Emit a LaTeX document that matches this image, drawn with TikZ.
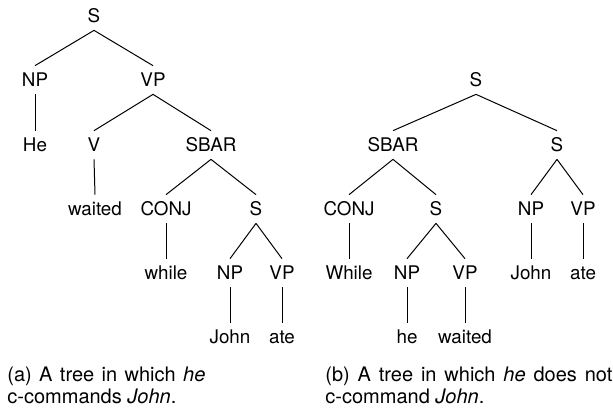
\documentclass[tikz,border=0pt]{standalone}
\usepackage{fontspec}
\setmainfont{TeX Gyre Heros}
\usetikzlibrary{calc}
\tikzset{
    cat/.style={inner xsep=1pt, inner ysep=3.6pt, text height=6.75pt, text depth=0pt,
      font=\fontsize{9.4}{10}\selectfont},
    branch/.style={line width=0.5pt},
    caption/.style={anchor=north west, inner sep=0pt, align=justify,
      font=\fontsize{10}{10.5}\selectfont},
  }

\begin{document}
\begin{tikzpicture}[x=0.5pt,y=-0.5pt]
  \useasboundingbox (0,0) rectangle (613,409);
  %TREE (a)
  \node[cat] (Sa) at (94,16) {S};
  \node[cat] (NPa) at (35,80) {NP};
  \node[cat] (VPa) at (153,80) {VP};
  \node[cat] (Hea) at (35,145) {He};
  \node[cat] (Va) at (94,145) {V};
  \node[cat] (SBARa) at (211,145) {SBAR};
  \node[cat] (waiteda) at (95,209) {waited};
  \node[cat] (CONJa) at (166,209) {CONJ};
  \node[cat] (Sa') at (256,209) {S};
  \node[cat] (whilea) at (166,273) {while};
  \node[cat] (NPa') at (230,273) {NP};
  \node[cat] (VPa') at (282,273) {VP};
  \node[cat] (Johna) at (230,337) {John};
  \node[cat] (atea) at (282,337) {ate};
  %branches (a)
  \draw[branch] (Sa.south) -- (NPa.north) (Sa.south) -- (VPa.north);
  \draw[branch] (NPa.south) -- (Hea.north);
  \draw[branch] (VPa.south) -- (Va.north) (VPa.south) -- (SBARa.north);
  \draw[branch] (Va.south) -- (waiteda.north);
  \draw[branch] (SBARa.south) -- (CONJa.north) (SBARa.south) -- (Sa'.north);
  \draw[branch] (CONJa.south) -- (whilea.north);
  \draw[branch] (Sa'.south) -- (NPa'.north) (Sa'.south) -- (VPa'.north);
  \draw[branch] (NPa'.south) -- (Johna.north);
  \draw[branch] (VPa'.south) -- (atea.north);
  %TREE (b)
  \node[cat] (Sb) at (476,80) {S};
  \node[cat] (SBARb) at (393,145) {SBAR};
  \node[cat] (Sb') at (557,145) {S};
  \node[cat] (CONJb) at (349,209) {CONJ};
  \node[cat] (Sb'') at (436,209) {S};
  \node[cat] (NPb) at (531,209) {NP};
  \node[cat] (VPb) at (583,209) {VP};
  \node[cat] (Whileb) at (349,273) {While};
  \node[cat] (NPb') at (407,273) {NP};
  \node[cat] (VPb') at (465,273) {VP};
  \node[cat] (Johnb) at (531,273) {John};
  \node[cat] (ateb) at (583,273) {ate};
  \node[cat] (heb) at (407,337) {he};
  \node[cat] (waitedb) at (465,337) {waited};
  %branches (b)
  \draw[branch] (Sb.south) -- (SBARb.north) (Sb.south) -- (Sb'.north);
  \draw[branch] (SBARb.south) -- (CONJb.north) (SBARb.south) -- (Sb''.north);
  \draw[branch] (Sb'.south) -- (NPb.north) (Sb'.south) -- (VPb.north);
  \draw[branch] (CONJb.south) -- (Whileb.north);
  \draw[branch] (Sb''.south) -- (NPb'.north) (Sb''.south) -- (VPb'.north);
  \draw[branch] (NPb.south) -- (Johnb.north);
  \draw[branch] (VPb.south) -- (ateb.north);
  \draw[branch] (NPb'.south) -- (heb.north);
  \draw[branch] (VPb'.south) -- (waitedb.north);
  %CAPTIONS
  \node[caption, text width=99pt] (capa) at (7,367)
    {(a) A tree in which \emph{he}\linebreak \mbox{c-commands} \emph{John}.};
  \node[caption, text width=143.5pt] (capb) at (325,367)
    {(b) A tree in which \emph{he} does not\linebreak \mbox{c-command} \emph{John}.};
\end{tikzpicture}
\end{document}
